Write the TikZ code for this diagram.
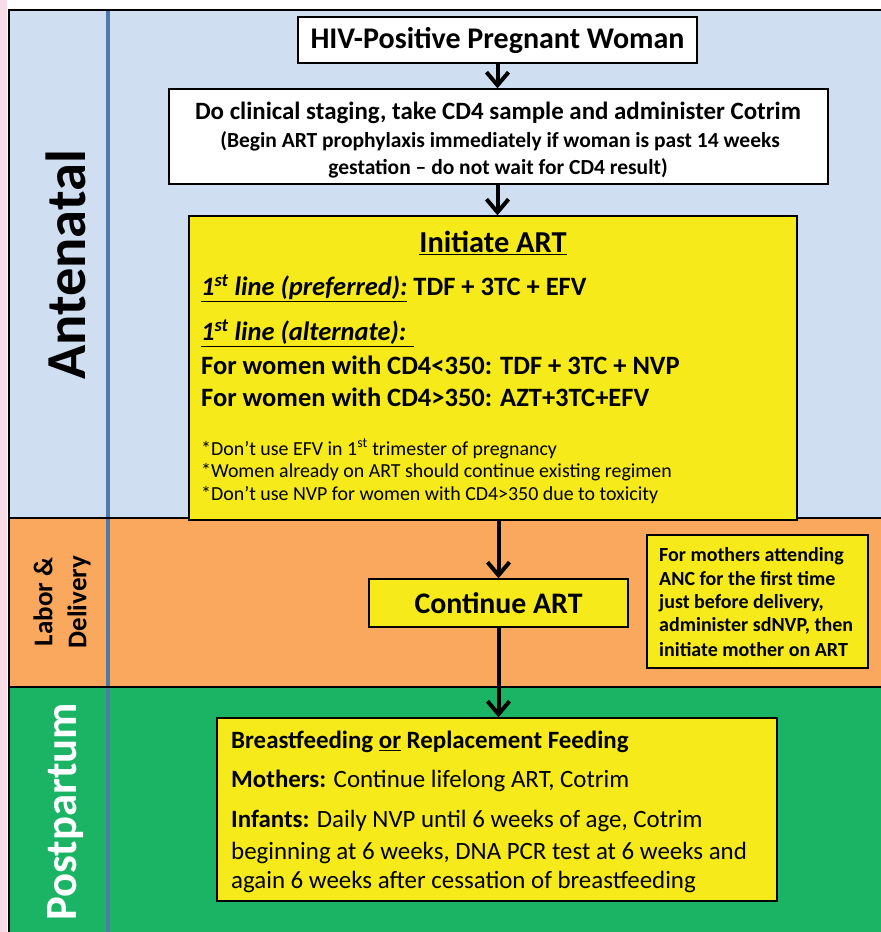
\documentclass[tikz,border=0pt]{standalone}
\usepackage{fontspec}
\setmainfont{Carlito}
\usetikzlibrary{arrows.meta}
\definecolor{pinkbg}{HTML}{FADCE9}
\definecolor{bluebg}{HTML}{CFDFF1}
\definecolor{orangebg}{HTML}{F9A85D}
\definecolor{greenbg}{HTML}{1AB464}
\definecolor{yellowbox}{HTML}{F6EA1A}
\definecolor{divider}{HTML}{4F79A8}
\begin{document}
\begin{tikzpicture}[x=1pt,y=-1pt,
  box/.style={draw=black,line width=1.4pt,inner sep=0pt},
  wbox/.style={box,fill=white},
  ybox/.style={box,fill=yellowbox},
  arr/.style={line width=4pt,-{Straight Barb[length=13pt,width=22pt,line width=4pt]}},
  txt/.style={inner sep=0pt,anchor=west},
  band/.style={line width=2pt,black},
]
\useasboundingbox (0,0) rectangle (881,932);
\fill[white] (0,0) rectangle (881,932);
\fill[pinkbg] (0,0) rectangle (7,932);
\fill[bluebg] (9,10) rectangle (881,518);
\fill[orangebg] (9,518) rectangle (881,687);
\fill[greenbg] (9,687) rectangle (881,932);
\draw[divider,line width=3.2pt] (108,10) -- (108,932);
\draw[band] (9,932) -- (9,9.5) -- (881,9.5);
\draw[band] (9,518) -- (881,518);
\draw[band] (9,687) -- (881,687);

% phase labels
\node[rotate=90,inner sep=0pt,font=\bfseries\fontsize{56.5}{60}\selectfont] (ante) at (66,265) {Antenatal};
\node[rotate=90,inner sep=0pt,align=center,font=\bfseries\fontsize{27}{34}\selectfont] (labor) at (62,602) {Labor \&\\Delivery};
\node[rotate=90,inner sep=0pt,text=white,font=\bfseries\fontsize{44.7}{50}\selectfont] (post) at (66,812) {Postpartum};

% box 1
\node[wbox,minimum width=399pt,minimum height=46pt,font=\bfseries\fontsize{30}{34}\selectfont] (hiv) at (497.5,40) {HIV-Positive Pregnant Woman};

% box 2
\node[wbox,minimum width=659pt,minimum height=95pt] (stage) at (498.5,136.5) {};
\node[inner sep=0pt,font=\bfseries\fontsize{24.9}{28}\selectfont] (st1) at (498,113) {Do clinical staging, take CD4 sample and administer Cotrim};
\node[inner sep=0pt,font=\bfseries\fontsize{21.5}{24}\selectfont] (st2) at (500,141) {(Begin ART prophylaxis immediately if woman is past 14 weeks};
\node[inner sep=0pt,font=\bfseries\fontsize{21.5}{24}\selectfont] (st3) at (498,168) {gestation -- do not wait for CD4 result)};

% box 3
\node[ybox,minimum width=608pt,minimum height=304pt] (init) at (493,368) {};
\node[inner sep=0pt,font=\bfseries\fontsize{30.4}{34}\selectfont] (i0) at (493,243) {\underline{Initiate ART}};
\node[txt,font=\bfseries\fontsize{26.5}{30}\selectfont] (i1) at (201,288) {\underline{\textit{1\textsuperscript{st} line (preferred):}} TDF + 3TC + EFV};
\node[txt,font=\bfseries\fontsize{26.5}{30}\selectfont] (i2) at (201,333) {\underline{\textit{1\textsuperscript{st} line (alternate): }}};
\node[txt,font=\bfseries\fontsize{26.5}{30}\selectfont] (i3) at (201,365) {For women with CD4<350: TDF + 3TC + NVP};
\node[txt,font=\bfseries\fontsize{26.5}{30}\selectfont] (i4) at (201,397) {For women with CD4>350: AZT+3TC+EFV};
\node[txt,font=\fontsize{19.9}{24}\selectfont] (n1) at (201,449) {*Don’t use EFV in 1\textsuperscript{st} trimester of pregnancy};
\node[txt,font=\fontsize{19.9}{24}\selectfont] (n2) at (201,472) {*Women already on ART should continue existing regimen};
\node[txt,font=\fontsize{19.9}{24}\selectfont] (n3) at (201,495) {*Don’t use NVP for women with CD4>350 due to toxicity};

% continue ART
\node[ybox,minimum width=259pt,minimum height=48pt,font=\bfseries\fontsize{29.8}{34}\selectfont] (cont) at (498.5,603) {Continue ART};

% side box
\node[ybox,minimum width=221pt,minimum height=133pt] (side) at (757.5,601.5) {};
\node[txt,font=\bfseries\fontsize{20}{24}\selectfont] (s1) at (659,556) {For mothers attending};
\node[txt,font=\bfseries\fontsize{20}{24}\selectfont] (s2) at (659,579) {ANC for the first time};
\node[txt,font=\bfseries\fontsize{20}{24}\selectfont] (s3) at (659,603) {just before delivery,};
\node[txt,font=\bfseries\fontsize{20}{24}\selectfont] (s4) at (659,626) {administer sdNVP, then};
\node[txt,font=\bfseries\fontsize{20}{24}\selectfont] (s5) at (659,650) {initiate mother on ART};

% postpartum box
\node[ybox,minimum width=560pt,minimum height=183pt] (feed) at (497,809.5) {};
\node[txt,font=\bfseries\fontsize{24.9}{28}\selectfont] (f1) at (231,742) {Breastfeeding \underline{or} Replacement Feeding};
\node[txt,font=\fontsize{24.9}{28}\selectfont] (f2) at (231,781) {\textbf{Mothers:} Continue lifelong ART, Cotrim};
\node[txt,font=\fontsize{24.9}{28}\selectfont] (f3) at (231,821) {\textbf{Infants:} Daily NVP until 6 weeks of age, Cotrim};
\node[txt,font=\fontsize{24.9}{28}\selectfont] (f4) at (231,853) {beginning at 6 weeks, DNA PCR test at 6 weeks and};
\node[txt,font=\fontsize{24.9}{28}\selectfont] (f5) at (231,882) {again 6 weeks after cessation of breastfeeding};

% connectors
\draw[arr] (hiv.south) -- (hiv.south |- stage.north);
\draw[arr] (stage.south -| hiv.south) -- (hiv.south |- init.north);
\draw[arr] (init.south -| cont.north) -- (cont.north);
\draw[arr] (cont.south) -- (cont.south |- feed.north);
\end{tikzpicture}
\end{document}
